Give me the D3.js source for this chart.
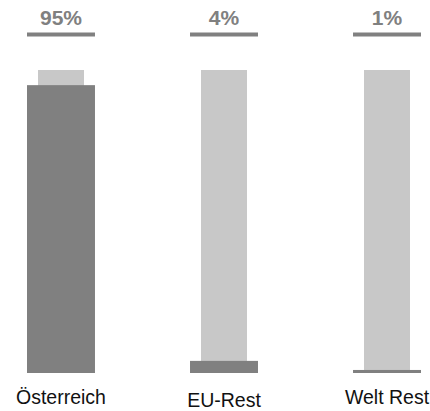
<!DOCTYPE html>
<meta charset="utf-8" />

<!-- Load d3.js -->
<script src="https://d3js.org/d3.v7.min.js"></script>

<style>
    body { margin: 0; background: #fff; }
</style>

<div id="my_dataviz"></div>

<script>
    // data
    const categories = ['Österreich', 'EU-Rest', 'Welt Rest']
    const shares = [95, 4, 1]
    const shareLabels = ['95%', '4%', '1%']
    const fullValue = 100

    const width = 430,
        height = 411

    const svg = d3
        .select('#my_dataviz')
        .append('svg')
        .attr('width', width)
        .attr('height', height)

    // x: one band per region, y: percent
    const x = d3.scaleBand().domain(categories).range([27, 421]).paddingInner(0.583).paddingOuter(0)
    const y = d3.scaleLinear().domain([0, fullValue]).range([373, 70])

    const innerW = 46

    const g = svg.selectAll('.grp')
        .data(categories)
        .join('g')
        .attr('class', 'grp')

    // light background bar (100%)
    g.append('rect')
        .attr('x', (d) => x(d) + (x.bandwidth() - innerW) / 2)
        .attr('y', y(fullValue))
        .attr('width', innerW)
        .attr('height', y(0) - y(fullValue))
        .attr('fill', '#c8c8c8')

    // dark value bar
    g.append('rect')
        .attr('x', (d) => x(d))
        .attr('y', (d, i) => y(shares[i]))
        .attr('width', x.bandwidth())
        .attr('height', (d, i) => y(0) - y(shares[i]))
        .attr('fill', '#808080')

    // line under the percent label
    g.append('rect')
        .attr('x', (d) => x(d))
        .attr('y', 32.5)
        .attr('width', x.bandwidth())
        .attr('height', 4)
        .attr('fill', '#808080')

    // percent label
    g.append('text')
        .attr('x', (d) => x(d) + x.bandwidth() / 2)
        .attr('y', 25)
        .attr('text-anchor', 'middle')
        .attr('font-family', 'Liberation Sans, Arial, sans-serif')
        .attr('font-weight', 'bold')
        .attr('font-size', '21px')
        .attr('fill', '#808080')
        .text((d, i) => shareLabels[i])

    // category label (EU-Rest sits a bit lower in the original)
    g.append('text')
        .attr('x', (d) => x(d) + x.bandwidth() / 2)
        .attr('y', (d, i) => (i === 1 ? 407 : 404))
        .attr('text-anchor', 'middle')
        .attr('font-family', 'Liberation Sans, Arial, sans-serif')
        .attr('font-size', '19.5px')
        .attr('fill', '#111')
        .text((d) => d)
</script>
